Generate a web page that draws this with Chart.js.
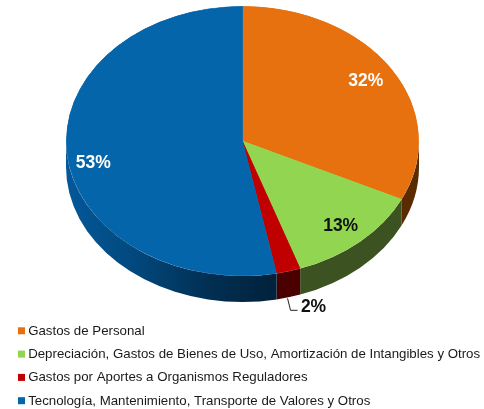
<!DOCTYPE html>
<html><head><meta charset="utf-8">
<style>html,body{margin:0;padding:0;background:#fff}canvas{display:block}</style>
<script src="https://cdn.jsdelivr.net/npm/chart.js@4"></script>
</head><body>
<canvas id="c" width="484" height="409"></canvas>
<script>
const categories = ["Gastos de Personal","Depreciación, Gastos de Bienes de Uso, Amortización de Intangibles y Otros","Gastos por Aportes a Organismos Reguladores","Tecnología, Mantenimiento, Transporte de Valores y Otros"];
const values = [32.1, 12.6, 2.2, 53.1];
const topColors = ["#E8710F","#92D550","#C00000","#0465AA"];
const sideColors = ["#5A2A00","#3C5220","#4A0000",null];
const labelColors = ["#fff","#111","#111","#fff"];
const labelRadius = [0.826,0.835,null,0.85];
const labelShiftY = [0,1.5,0,11];

const CX = 242.5, CY = 141, RX = 176.5, RY = 135, DEPTH = 26;

const pie3d = {
  id: 'pie3d',
  beforeDatasetDraw(chart) {
    const ctx = chart.ctx, arcs = chart.getDatasetMeta(0).data;
    const grad = ctx.createLinearGradient(CX - RX, 0, CX + 30, 0);
    grad.addColorStop(0, '#03589A');
    grad.addColorStop(0.3, '#024A80');
    grad.addColorStop(0.7, '#012F52');
    grad.addColorStop(1, '#01223C');
    arcs.forEach((a, i) => {
      const s = Math.max(a.startAngle, 0), e = Math.min(a.endAngle, Math.PI);
      if (e <= s) return;
      ctx.beginPath();
      ctx.ellipse(CX, CY, RX, RY, 0, s, e);
      ctx.ellipse(CX, CY + DEPTH, RX, RY, 0, e, s, true);
      ctx.closePath();
      ctx.fillStyle = sideColors[i] || grad;
      ctx.fill();
    });
    const c = arcs[0];
    ctx.save();
    ctx.translate(CX, CY);
    ctx.scale(1, RY / RX);
    ctx.translate(-c.x, -c.y);
  },
  afterDatasetDraw(chart) { chart.ctx.restore(); },
  afterDraw(chart) {
    const ctx = chart.ctx, arcs = chart.getDatasetMeta(0).data;
    ctx.save();
    ctx.textAlign = 'center';
    ctx.textBaseline = 'middle';
    ctx.font = 'bold 17.5px "Liberation Sans"';
    arcs.forEach((a, i) => {
      const m = (a.startAngle + a.endAngle) / 2;
      let x, y;
      if (labelRadius[i] === null) {
        const ax = CX + RX * Math.cos(m) - 1, ay = CY + RY * Math.sin(m) + DEPTH + 1;
        ctx.strokeStyle = '#222';
        ctx.lineWidth = 1;
        ctx.beginPath();
        ctx.moveTo(ax, ay);
        ctx.lineTo(ax + 3, ay + 12);
        ctx.lineTo(ax + 10, ay + 12);
        ctx.stroke();
        x = ax + 26; y = ay + 9;
      } else {
        x = CX + RX * labelRadius[i] * Math.cos(m);
        y = CY + RY * labelRadius[i] * Math.sin(m) + labelShiftY[i];
      }
      ctx.fillStyle = labelColors[i];
      ctx.fillText(Math.round(values[i]) + '%', x, y);
    });
    chart.legend.legendHitBoxes.forEach((b, i) => {
      ctx.fillStyle = topColors[i];
      ctx.fillRect(18, b.top + 3, 7, 7);
    });
    ctx.restore();
  }
};

new Chart(document.getElementById('c'), {
  type: 'pie',
  data: { labels: categories, datasets: [{ data: values, backgroundColor: topColors, borderColor: topColors, borderWidth: 0.5, borderAlign: 'inner', radius: RX, clip: false }] },
  options: {
    responsive: false, animation: false,
    events: [],
    layout: { padding: { left: 8, right: 0, top: 0, bottom: -8.5 } },
    plugins: {
      tooltip: { enabled: false },
      legend: {
        position: 'bottom', align: 'start',
        labels: {
          boxWidth: 3.5, boxHeight: 13.3, padding: 10,
          font: { family: '"Liberation Sans"', size: 13.27 },
          color: '#1a1a1a',
          generateLabels: () => categories.map((t, i) => ({ text: t, fillStyle: 'rgba(0,0,0,0)', strokeStyle: 'rgba(0,0,0,0)', lineWidth: 0, index: i, hidden: false, fontColor: '#1a1a1a' }))
        }
      }
    }
  },
  plugins: [pie3d]
});
</script>
</body></html>
